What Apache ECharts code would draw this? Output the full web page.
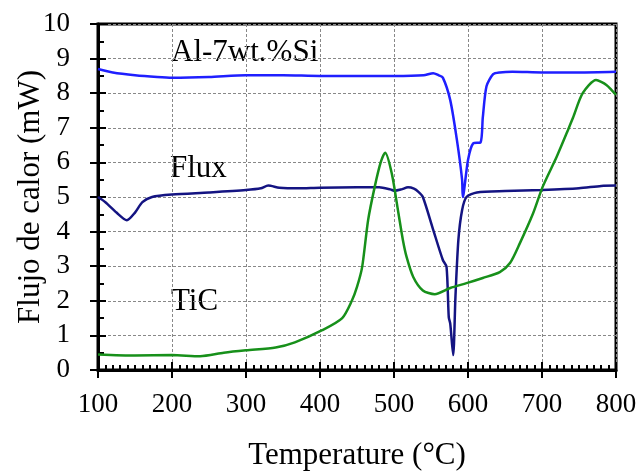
<!DOCTYPE html>
<html><head><meta charset="utf-8">
<script src="https://cdn.jsdelivr.net/npm/echarts@6/dist/echarts.min.js"></script>
<style>html,body{margin:0;padding:0;background:#fff}#c{width:638px;height:474px}</style>
</head><body><div id="c"></div>
<script>
const xTicks = [100,200,300,400,500,600,700,800];
const yTicks = [0,1,2,3,4,5,6,7,8,9,10];

const alTemp = [100,120,150,180,200,250,300,350,400,450,500,540,553,560,566,576,585,592,593,600,607,617,620,625,634,643,660,700,750,800];
const alVal  = [8.7,8.6,8.52,8.47,8.45,8.47,8.52,8.52,8.5,8.5,8.5,8.52,8.58,8.52,8.45,7.8,6.65,5.5,5.0,6.07,6.55,6.58,7.3,8.2,8.55,8.6,8.62,8.6,8.6,8.62];

const fluxTemp = [100,110,125,139,150,160,173,200,250,300,320,330,345,370,400,450,480,495,501,510,519,527,533,539,553,566,571,574,576,580,583,587,592,598,612,650,700,750,780,800];
const fluxVal  = [5.0,4.85,4.55,4.33,4.55,4.85,5.0,5.07,5.13,5.2,5.25,5.33,5.27,5.25,5.27,5.28,5.28,5.22,5.18,5.22,5.28,5.24,5.15,5.0,4.05,3.18,2.98,1.53,1.34,0.43,2.1,3.76,4.62,5.0,5.13,5.17,5.2,5.25,5.32,5.33];

const ticTemp = [100,150,200,238,270,300,340,366,403,430,443,450,457,465,474,482,488,497,506,512,517,526,539,555,576,598,620,643,657,670,688,701,720,735,742,755,773,787,800];
const ticVal  = [0.45,0.42,0.43,0.4,0.5,0.57,0.65,0.8,1.15,1.5,2.0,2.4,2.98,4.33,5.3,6.0,6.28,5.68,4.53,3.76,3.27,2.69,2.3,2.19,2.37,2.51,2.66,2.83,3.1,3.66,4.53,5.3,6.17,6.93,7.3,8.0,8.38,8.24,7.95];

const pairs = (xs, ys) => xs.map((x, i) => [x, ys[i]]);
const font = '"Liberation Serif", "Times New Roman", serif';

const chart = echarts.init(document.getElementById('c'), null, {renderer: 'canvas'});
const baseX = {type: 'value', min: 100, max: 800, interval: 100, position: 'bottom'};
const baseY = {type: 'value', min: 0, max: 10, interval: 1, position: 'left'};
chart.setOption({
  animation: false,
  backgroundColor: '#fff',
  grid: {left: 98, right: 22, top: 24, bottom: 104, show: true, borderColor: '#000', borderWidth: 3,
    containLabel: false, outerBoundsMode: 'none'},
  xAxis: [
    Object.assign({}, baseX, {
      name: 'Temperature (°C)', nameLocation: 'middle', nameGap: 70, nameMoveOverlap: false,
      nameTextStyle: {fontFamily: font, fontSize: 31, color: '#000'},
      axisLine: {show: true, lineStyle: {color: '#000', width: 3}},
      axisTick: {show: true, inside: false, length: 8, lineStyle: {color: '#000', width: 2}},
      axisLabel: {show: true, fontFamily: font, fontSize: 27, color: '#000', margin: 21,
        formatter: v => xTicks.includes(v) ? String(v) : ''},
      splitLine: {show: true, lineStyle: {color: '#888', type: [3, 2], width: 1}}
    }),
    Object.assign({}, baseX, {
      axisLine: {show: false},
      axisTick: {show: true, inside: true, length: 8, lineStyle: {color: '#000', width: 2}},
      minorTick: {show: true, splitNumber: 10, length: 5, lineStyle: {color: '#000', width: 2}},
      axisLabel: {show: false}, splitLine: {show: false}
    })
  ],
  yAxis: [
    Object.assign({}, baseY, {
      name: 'Flujo de calor (mW)', nameLocation: 'middle', nameGap: 52, nameRotate: 90, nameMoveOverlap: false,
      nameTextStyle: {fontFamily: font, fontSize: 31, color: '#000'},
      axisLine: {show: true, lineStyle: {color: '#000', width: 3}},
      axisTick: {show: true, inside: false, length: 8, lineStyle: {color: '#000', width: 2}},
      axisLabel: {show: true, fontFamily: font, fontSize: 27, color: '#000', margin: 28,
        formatter: v => yTicks.includes(v) ? String(v) : ''},
      splitLine: {show: true, lineStyle: {color: '#888', type: [3, 2], width: 1}}
    }),
    Object.assign({}, baseY, {
      axisLine: {show: false},
      axisTick: {show: true, inside: true, length: 8, lineStyle: {color: '#000', width: 2}},
      minorTick: {show: true, splitNumber: 2, length: 6, lineStyle: {color: '#000', width: 2}},
      axisLabel: {show: false}, splitLine: {show: false}
    })
  ],
  series: [
    {name: 'Al-7wt.%Si', type: 'line', data: pairs(alTemp, alVal), showSymbol: false, smooth: 0.25,
      lineStyle: {color: '#1f1fff', width: 2.5}},
    {name: 'Flux', type: 'line', data: pairs(fluxTemp, fluxVal), showSymbol: false, smooth: 0.25,
      lineStyle: {color: '#141482', width: 2.5}},
    {name: 'TiC', type: 'line', data: pairs(ticTemp, ticVal), showSymbol: false, smooth: 0.25,
      lineStyle: {color: '#17901a', width: 2.5}}
  ],
  graphic: [
    {type: 'text', left: 171, top: 37, style: {text: 'Al-7wt.%Si', font: '31px ' + font, fill: '#000'}},
    {type: 'text', left: 170, top: 153, style: {text: 'Flux', font: '31px ' + font, fill: '#000'}},
    {type: 'text', left: 171, top: 286, style: {text: 'TiC', font: '31px ' + font, fill: '#000'}}
  ]
});
</script></body></html>
